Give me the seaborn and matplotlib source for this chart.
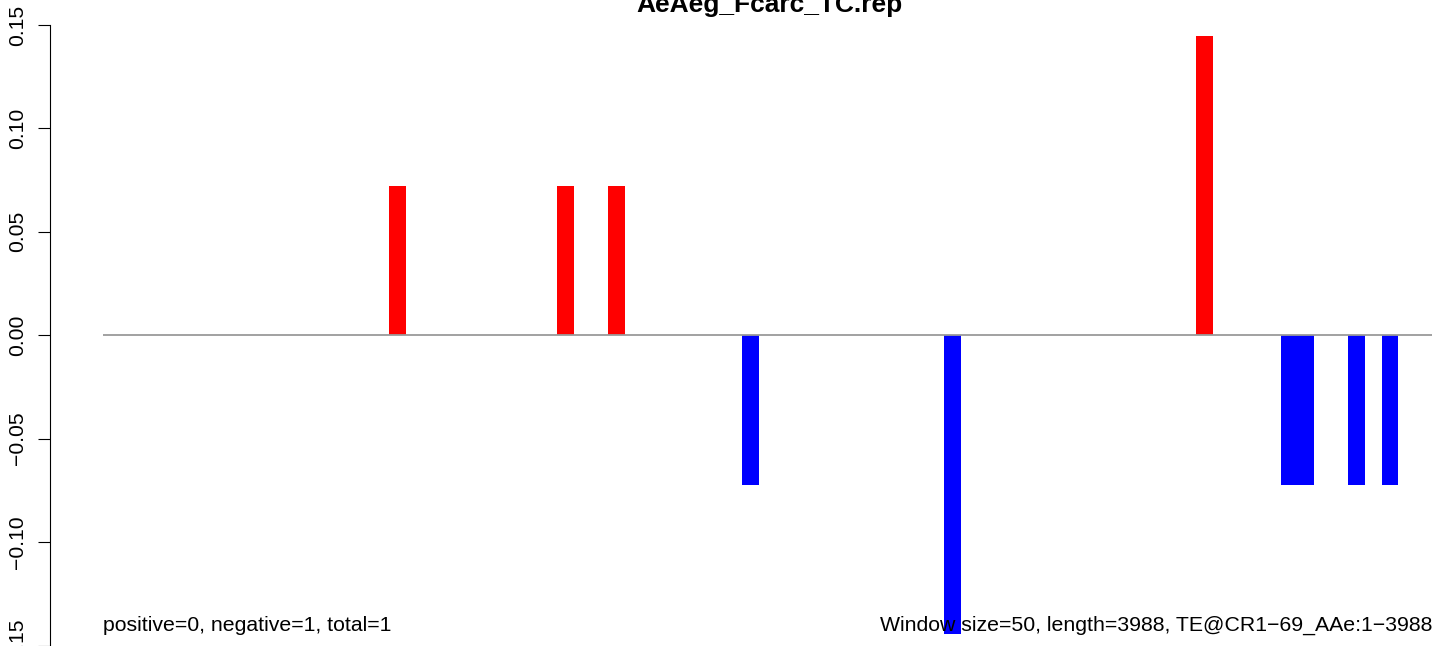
import matplotlib
matplotlib.use("Agg")
import matplotlib.pyplot as plt
import seaborn as sns
import pandas as pd

# ---- data ----
title = "AeAeg_Fcarc_TC.rep"
n_windows = 79
window_idx = [17, 27, 30, 38, 50, 65, 70, 71, 74, 76]
window_val = [0.0723, 0.0723, 0.0723, -0.0723, -0.1446, 0.1446,
              -0.0723, -0.0723, -0.0723, -0.0723]
yticks = [-0.15, -0.10, -0.05, 0.00, 0.05, 0.10, 0.15]
left_note = "positive=0, negative=1, total=1"
right_note = "Window size=50, length=3988, TE@CR1\u221269_AAe:1\u22123988"

df = pd.DataFrame({
    "pos": [i + 0.5 for i in window_idx],
    "val": window_val,
})
df["sign"] = ["pos" if v > 0 else "neg" for v in df["val"]]

sns.set_style("white")
plt.rcParams["font.family"] = ["Liberation Sans", "DejaVu Sans"]
for k in ["text.color", "axes.labelcolor", "xtick.color", "ytick.color",
          "axes.edgecolor"]:
    plt.rcParams[k] = "black"

W, H = 1444, 646
fig = plt.figure(figsize=(W / 100, H / 100), dpi=100)
ax = fig.add_axes([50 / W, 0, (W - 50) / W, 1])

sns.barplot(data=df, x="pos", y="val", hue="sign",
            palette={"pos": "#FF0000", "neg": "#0000FF"},
            native_scale=True, width=1.0, dodge=False,
            linewidth=0, legend=False, ax=ax, saturation=1)

# zero line across the windows
ax.plot([0, n_windows], [0, 0], color="#9a9a9a", lw=1.3, zorder=5,
        solid_capstyle="butt")

# scales: window 0 -> 103 px, window 79 -> 1432 px
scale = (1432 - 103) / n_windows
xmin = -(103 - 50) / scale
xmax = xmin + (W - 50) / scale
ax.set_xlim(xmin, xmax)
pxu = (645.5 - 25) / 0.30
ax.set_ylim(-0.15 - (H - 645.5) / pxu, 0.15 + 25 / pxu)

for s in ["top", "right", "bottom"]:
    ax.spines[s].set_visible(False)
ax.spines["left"].set_bounds(-0.15, 0.15)
ax.spines["left"].set_color("black")
ax.spines["left"].set_linewidth(0.8)
ax.set_xticks([])
ax.set_yticks(yticks)
ax.set_yticklabels([f"{t:.2f}".replace("-", "\u2212") for t in yticks],
                   rotation=90, va="center", fontsize=15.2, color="black")
ax.tick_params(axis="y", length=8.6, width=0.8, pad=8, color="black",
               left=True)
ax.set_xlabel("")
ax.set_ylabel("")
ax.patch.set_alpha(0)

ybase = 0.15 - (631 - 25) / pxu
ax.text(0, ybase, left_note, ha="left", va="baseline", fontsize=15.3,
        color="black")
ax.text(n_windows, ybase, right_note, ha="right", va="baseline",
        fontsize=15.3, color="black")

fig.text(769 / W, 1 - 12 / H, title, ha="center", va="baseline",
         fontsize=19, fontweight="bold", color="black")

fig.savefig("out.png", dpi=100)
